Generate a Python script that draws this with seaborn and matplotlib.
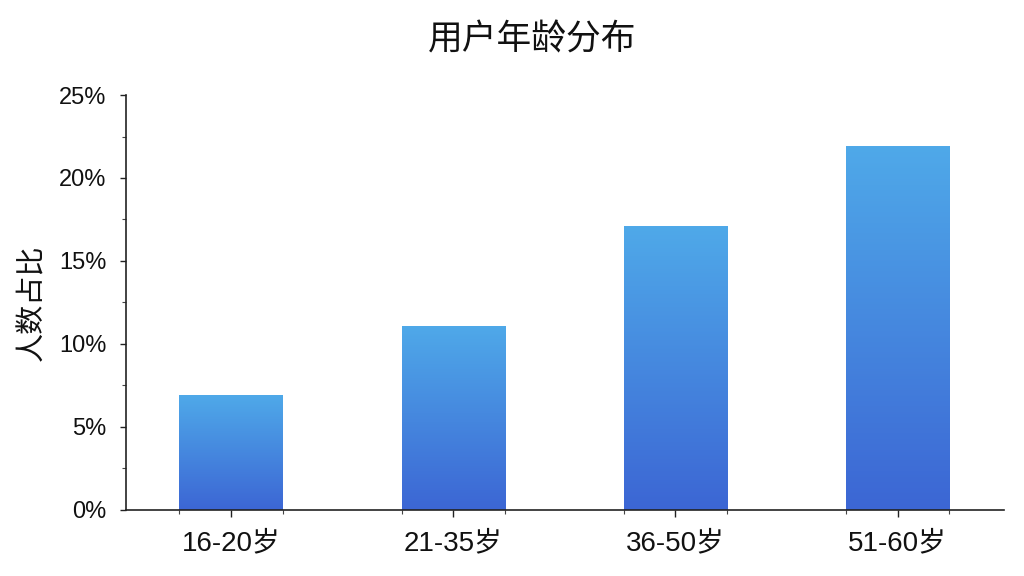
import numpy as np
import pandas as pd
import seaborn as sns
import matplotlib.pyplot as plt
from matplotlib.colors import LinearSegmentedColormap
from matplotlib.ticker import MultipleLocator, FuncFormatter, FixedLocator

# age groups and share of users (%)
age_groups = ["16-20岁", "21-35岁", "36-50岁", "51-60岁"]
share = [6.9, 11.1, 17.1, 21.9]

df = pd.DataFrame({"age": age_groups, "share": share})

sns.set_style("white")
plt.rcParams['font.family'] = ['Liberation Sans', 'Noto Sans CJK SC', 'DejaVu Sans']

fig = plt.figure(figsize=(10.24, 5.76), dpi=100)
ax = fig.add_axes([0.123, 0.115, 0.857, 0.72])

bar_w = 0.465
sns.barplot(data=df, x="age", y="share", width=bar_w, color="#4a90e2", ax=ax)

# gradient fill for each bar
cmap = LinearSegmentedColormap.from_list("bar_grad", ["#3c66d4", "#4fa9e9"])
grad = np.linspace(0, 1, 256).reshape(-1, 1)
for p in ax.patches:
    x0, y0 = p.get_x(), p.get_y()
    w, h = p.get_width(), p.get_height()
    im = ax.imshow(grad, cmap=cmap, origin="lower", aspect="auto",
                   extent=[x0, x0 + w, y0, y0 + h], zorder=2)
    im.set_clip_path(p)
    p.set_facecolor("none")
    p.set_edgecolor("none")

ax.set_xlim(-0.473, 3.477)
ax.set_ylim(0, 25)
ax.yaxis.set_major_locator(MultipleLocator(5))
ax.yaxis.set_minor_locator(MultipleLocator(2.5))
ax.yaxis.set_major_formatter(FuncFormatter(lambda v, _: f"{v:.0f}%"))

# small ticks at the bar edges
edges = [i + s * bar_w / 2 for i in range(len(age_groups)) for s in (-1, 1)]
ax.xaxis.set_minor_locator(FixedLocator(edges))

for s in ["top", "right"]:
    ax.spines[s].set_visible(False)
for s in ["left", "bottom"]:
    ax.spines[s].set_color("#222222")
    ax.spines[s].set_linewidth(1.2)

ax.tick_params(axis="y", which="major", length=4, width=1, color="#222222",
               labelsize=17, labelcolor="#111111", pad=10, left=True)
ax.tick_params(axis="y", which="minor", length=3, width=0.8, color="#444444", left=True)
ax.tick_params(axis="x", which="major", length=5, width=1, color="#222222", labelsize=20,
               labelcolor="#111111", pad=10, bottom=True)
ax.tick_params(axis="x", which="minor", length=3, width=0.8, color="#444444", bottom=True)

ax.set_xlabel("")
ax.set_ylabel("人数占比", fontsize=21, color="#111111", labelpad=9)

fig.suptitle("用户年龄分布", fontsize=25, x=0.52, y=0.96, color="#111111")

fig.savefig("out.png", dpi=100)
